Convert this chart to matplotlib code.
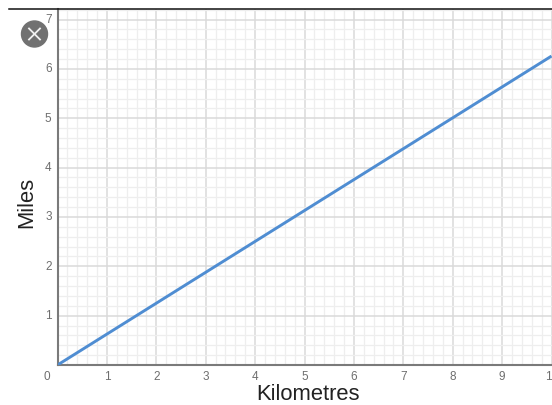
import matplotlib
matplotlib.use('Agg')
import matplotlib.pyplot as plt
from matplotlib.lines import Line2D
from matplotlib.patches import Circle
from matplotlib.ticker import MultipleLocator

W, H = 552, 406

km = [0, 10]
miles = [0, 6.26]
x_ticks = [1, 2, 3, 4, 5, 6, 7, 8, 9, 10]
y_ticks = [1, 2, 3, 4, 5, 6, 7]

plt.rcParams['font.family'] = ['Liberation Sans', 'DejaVu Sans']

fig = plt.figure(figsize=(W / 100, H / 100), dpi=100)
# axes run off the right edge of the picture, top stops at the black rule
left, right, top, bottom = 57.5, 552, 10, 366
ax = fig.add_axes([left / W, 1 - bottom / H, (right - left) / W, (bottom - top) / H])
ax.set_xlim(0, (right - left) / 49.4)
ax.set_ylim(0, (bottom - top) / 49.35)

# grid
ax.xaxis.set_major_locator(MultipleLocator(1))
ax.yaxis.set_major_locator(MultipleLocator(1))
ax.xaxis.set_minor_locator(MultipleLocator(0.2))
ax.yaxis.set_minor_locator(MultipleLocator(0.2))
ax.grid(which='major', color='#dadada', linewidth=1.1)
ax.grid(which='minor', color='#eeeeee', linewidth=0.9)
ax.set_axisbelow(True)
ax.tick_params(which='both', length=0, labelbottom=False, labelleft=False)

for s in ['top', 'right']:
    ax.spines[s].set_visible(False)
for s in ['left', 'bottom']:
    ax.spines[s].set_color('#7a7a7a')
    ax.spines[s].set_linewidth(1.5)

ax.plot(km, miles, color='#4f8dd2', linewidth=2.1, solid_capstyle='butt', zorder=5)

# tick labels, 10 is cut by the picture edge
label_size = 8.5
for v in x_ticks:
    ax.text(v, -0.215, str(v), ha='center', va='center', fontsize=label_size, color='#6e6e6e', clip_on=False)
for v in y_ticks:
    ax.text(-0.12, v + 0.01, str(v), ha='right', va='center', fontsize=label_size, color='#6e6e6e', clip_on=False)
ax.text(-0.21, -0.215, '0', ha='center', va='center', fontsize=label_size, color='#6e6e6e', clip_on=False)

# axis titles
fig.text(308 / W, 1 - 394.5 / H, 'Kilometres', ha='center', va='center', fontsize=15.8, color='#222222')
fig.text(27 / W, 1 - 202 / H, 'Miles', ha='center', va='center', rotation=90, fontsize=15.8, color='#222222')

# black rule across the top
fig.add_artist(Line2D([9 / W, 1], [1 - 9.5 / H, 1 - 9.5 / H], transform=fig.transFigure, color='#111111', linewidth=1.1))

# close button, in pixel coordinates
btn = Circle((34.5, H - 35), 13, transform=None, color='#717171', zorder=10)
fig.add_artist(btn)
for dx in [1, -1]:
    fig.add_artist(Line2D([34.5 - 5.5, 34.5 + 5.5], [H - 35 - 5.5 * dx, H - 35 + 5.5 * dx], transform=None,
                          color='#f2f2f2', linewidth=1.3, zorder=11))

fig.savefig('out.png', dpi=100)
